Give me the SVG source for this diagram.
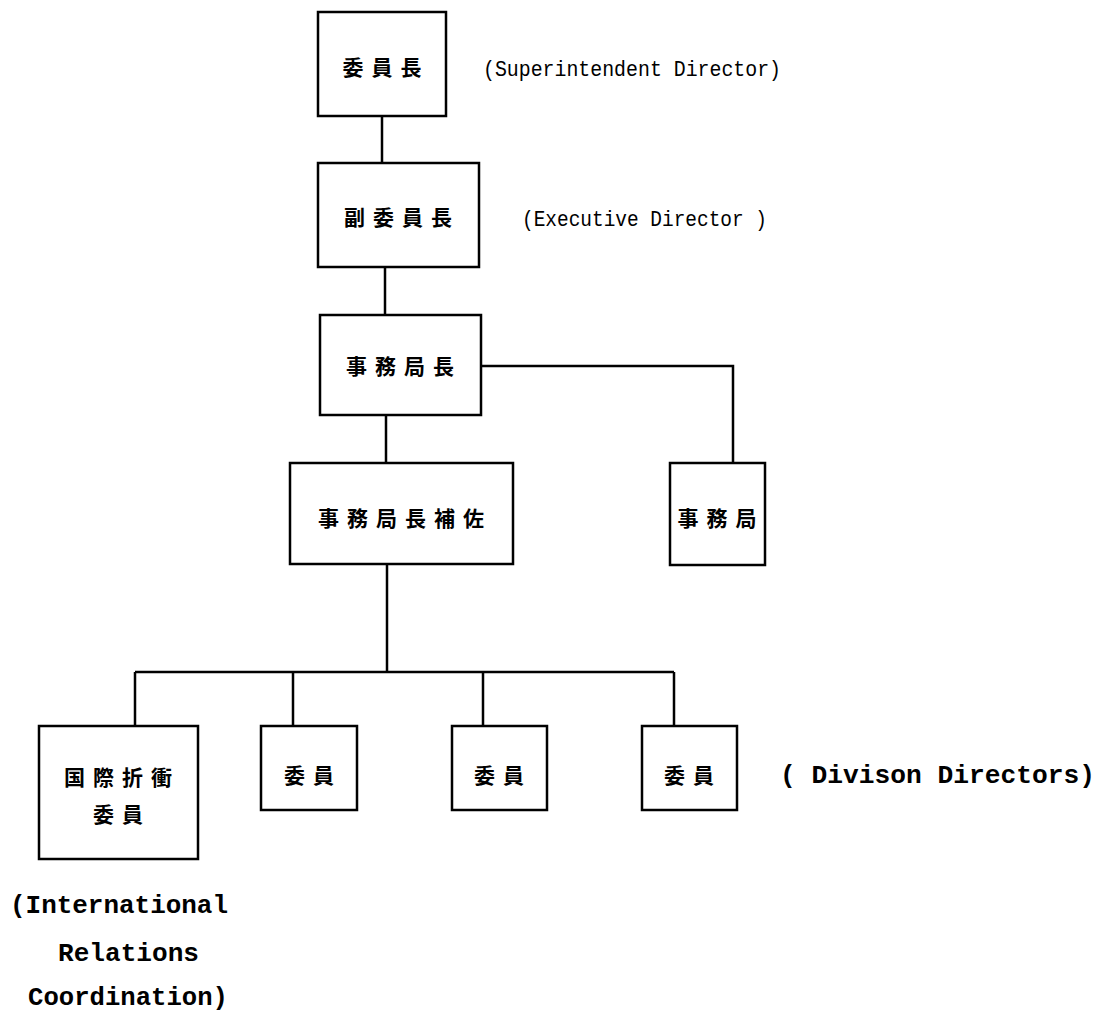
<svg xmlns="http://www.w3.org/2000/svg" width="1101" height="1016" viewBox="0 0 1101 1016">
<style>
.box{fill:#fff;stroke:#000;stroke-width:2.5}
.ln{fill:none;stroke:#000;stroke-width:2.5}
.cjk{font-family:"Noto Sans CJK JP","Noto Sans CJK TC",sans-serif;font-weight:bold;font-size:21px;letter-spacing:8px;text-anchor:middle;fill:#000}
.en{font-family:"Liberation Mono","DejaVu Sans Mono",monospace;font-size:22px;fill:#000}
.enb{font-family:"Liberation Mono","DejaVu Sans Mono",monospace;font-size:25px;font-weight:bold;fill:#000}
</style>
<rect width="1101" height="1016" fill="#fff"/>
<g id="connectors">
<path class="ln" d="M382 116V163"/>
<path class="ln" d="M385 267V315"/>
<path class="ln" d="M481 366H733V463"/>
<path class="ln" d="M386 415V463"/>
<path class="ln" d="M387 564V672"/>
<path class="ln" d="M135 672H674"/>
<path class="ln" d="M135 672V726M293 672V726M483 672V726M674 672V726"/>
</g>
<g id="n1"><rect class="box" x="318" y="12" width="128" height="104"/><text class="cjk" x="386" y="75">委員長</text></g>
<g id="n2"><rect class="box" x="318" y="163" width="161" height="104"/><text class="cjk" x="402" y="225">副委員長</text></g>
<g id="n3"><rect class="box" x="320" y="315" width="161" height="100"/><text class="cjk" x="404" y="374">事務局長</text></g>
<g id="n4"><rect class="box" x="290" y="463" width="223" height="101"/><text class="cjk" x="405" y="526">事務局長補佐</text></g>
<g id="n5"><rect class="box" x="670" y="463" width="95" height="102"/><text class="cjk" x="721" y="526">事務局</text></g>
<g id="n6"><rect class="box" x="39" y="726" width="159" height="133"/><text class="cjk" x="122" y="785">国際折衝</text><text class="cjk" x="122" y="822">委員</text></g>
<g id="n7"><rect class="box" x="261" y="726" width="96" height="84"/><text class="cjk" x="313" y="783">委員</text></g>
<g id="n8"><rect class="box" x="452" y="726" width="95" height="84"/><text class="cjk" x="503" y="783">委員</text></g>
<g id="n9"><rect class="box" x="642" y="726" width="95" height="84"/><text class="cjk" x="693" y="783">委員</text></g>
<g id="labels">
<text class="en" x="483" y="76" textLength="298" lengthAdjust="spacingAndGlyphs">(Superintendent Director)</text>
<text class="en" x="522" y="226" textLength="245" lengthAdjust="spacingAndGlyphs">(Executive Director )</text>
<text class="enb" x="780" y="783" textLength="315" lengthAdjust="spacingAndGlyphs">( Divison Directors)</text>
<text class="enb" x="10" y="913" textLength="218" lengthAdjust="spacingAndGlyphs">(International</text>
<text class="enb" x="58" y="961" textLength="141" lengthAdjust="spacingAndGlyphs">Relations</text>
<text class="enb" x="28" y="1005" textLength="200" lengthAdjust="spacingAndGlyphs">Coordination)</text>
</g>
</svg>
